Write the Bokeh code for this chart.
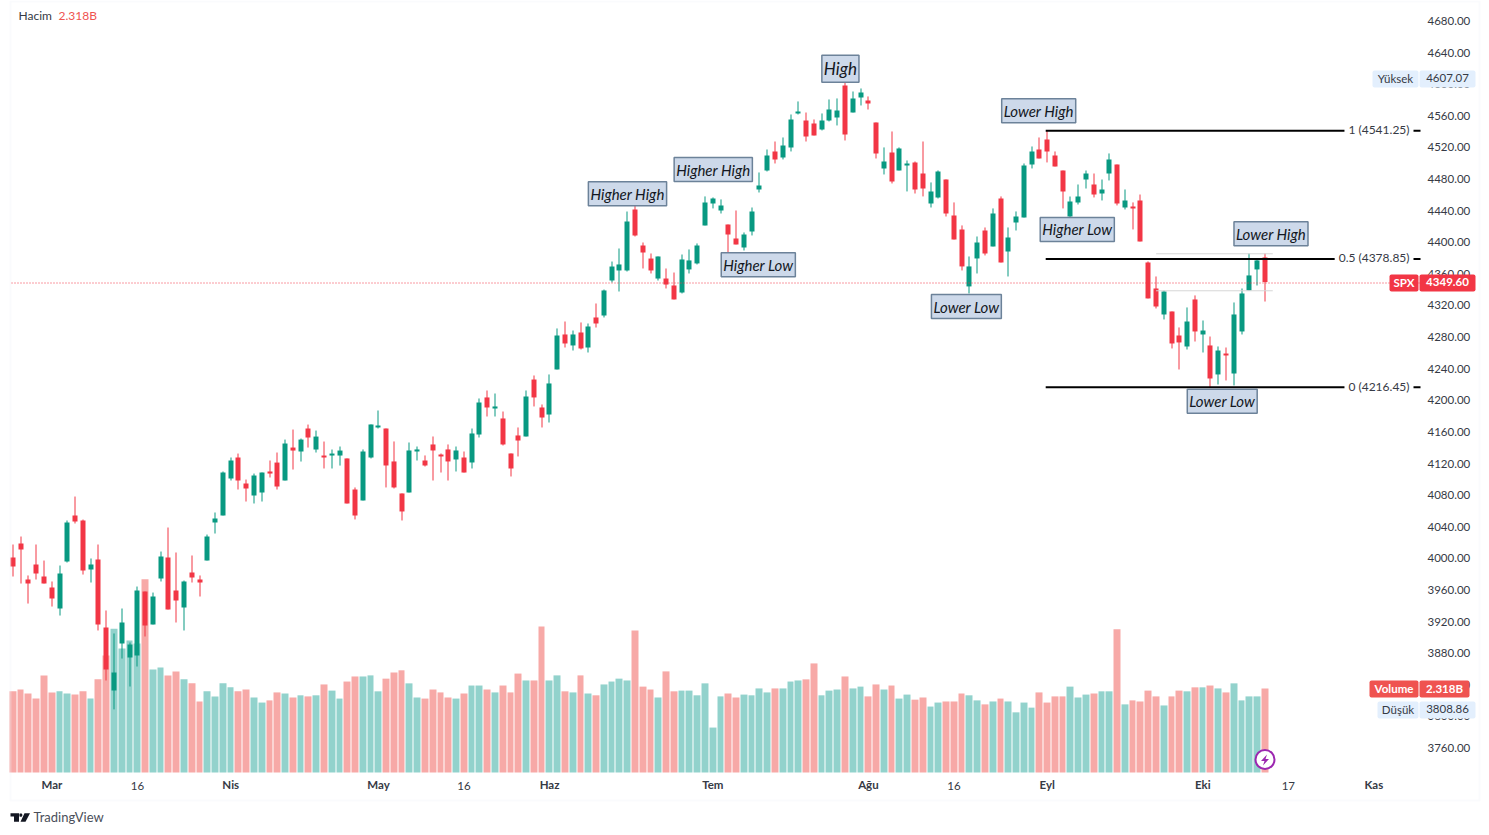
import math
from bokeh.plotting import figure
from bokeh.embed import file_html
from bokeh.resources import INLINE
from bokeh.models import (ColumnDataSource, Range1d, LinearAxis, FixedTicker, NumeralTickFormatter,
                          Label, BoxAnnotation, PolyAnnotation)

open_ = [4001.0,4018.7,3973.2,3992.2,3977.0,3963.1,3936.5,3996.0,4054.2,4047.9,3985.8,3998.5,3912.5,3832.7,3892.2,3874.5,3877.0,3958.0,3916.3,3974.5,
4001.0,3959.3,3937.8,3982.1,3973.2,3997.2,4045.3,4054.2,4101.0,4127.6,4094.7,4079.5,4083.3,4109.9,4121.2,4098.5,4140.2,4135.2,4164.3,4137.7,
4130.1,4130.1,4130.1,4126.4,4087.1,4073.2,4127.6,4165.6,4164.3,4122.6,4082.1,4083.3,4135.2,4123.8,4144.1,4131.4,4137.8,4125.1,4127.6,4121.3,
4156.7,4203.6,4189.6,4177.0,4132.7,4155.5,4154.2,4226.3,4190.9,4182.0,4239.0,4283.3,4269.4,4285.8,4266.8,4304.8,4307.3,4351.6,4364.3,4364.3,
4441.4,4395.9,4379.4,4354.1,4354.1,4345.3,4336.4,4365.6,4373.2,4421.3,4449.1,4440.2,4422.5,4404.8,4393.4,4413.7,4466.8,4490.9,4514.9,4507.3,
4520.0,4563.0,4554.1,4550.3,4542.7,4554.1,4557.9,4598.4,4564.2,4583.2,4579.4,4551.6,4493.4,4513.6,4490.9,4497.2,4501.0,4487.1,4449.1,4456.7,
4479.5,4433.9,4416.2,4344.1,4379.5,4414.9,4394.7,4455.4,4388.4,4425.1,4431.3,4498.4,4517.4,4530.0,4509.8,4490.8,4432.6,4450.4,4479.4,4473.1,
4461.7,4487.0,4498.4,4444.0,4445.3,4452.9,4374.4,4341.5,4308.6,4312.4,4282.0,4268.1,4327.6,4283.3,4269.4,4232.7,4259.2,4233.9,4287.1,4339.0,4365.6,4380.8]
high = [4017.5,4027.6,3978.3,4017.5,3997.2,3970.7,3990.9,4047.9,4078.2,4049.1,3999.8,4017.5,3934.0,3904.9,3936.5,3893.5,3964.3,3958.0,3956.7,4008.6,
4039.0,4007.4,3971.9,4003.6,3978.3,4030.1,4058.0,4109.9,4127.6,4132.6,4099.7,4107.3,4108.6,4123.8,4133.9,4150.3,4163.0,4151.6,4169.3,4161.7,
4147.8,4137.7,4141.5,4126.4,4089.7,4137.8,4169.4,4187.1,4164.3,4147.9,4082.1,4146.6,4141.5,4130.2,4154.2,4132.7,4144.1,4141.5,4135.2,4164.3,
4202.3,4212.4,4208.6,4185.8,4132.7,4165.6,4212.4,4231.4,4194.7,4232.7,4290.9,4299.7,4288.3,4298.5,4297.2,4322.5,4340.2,4375.6,4392.1,4438.9,
4446.5,4399.7,4385.8,4382.0,4366.8,4361.7,4384.5,4390.9,4398.5,4458.0,4456.7,4454.2,4422.5,4440.2,4412.4,4444.0,4488.3,4517.4,4527.5,4532.6,
4561.7,4578.2,4564.2,4555.4,4563.0,4580.7,4582.0,4607.07,4590.8,4594.6,4584.5,4551.6,4520.0,4540.2,4520.0,4503.5,4502.2,4527.5,4475.7,4490.9,
4479.5,4450.4,4421.3,4382.0,4407.3,4418.7,4442.8,4458.0,4418.7,4439.0,4499.7,4521.2,4532.6,4541.25,4514.9,4490.8,4457.9,4473.1,4490.8,4487.0,
4479.4,4512.4,4498.4,4466.8,4450.4,4460.4,4375.7,4356.7,4339.0,4312.4,4292.2,4317.5,4332.7,4301.0,4280.7,4268.1,4266.8,4323.8,4341.5,4385.8,4378.2,4385.8]
low = [3977.0,3968.1,3942.8,3973.2,3968.1,3939.0,3927.6,3994.7,4044.1,3979.5,3969.4,3908.7,3845.4,3808.86,3873.2,3837.8,3863.1,3901.1,3916.3,3970.7,
3935.2,3918.8,3908.7,3969.4,3951.7,3997.2,4031.4,4054.2,4098.5,4087.1,4071.9,4069.4,4071.9,4102.3,4087.1,4098.5,4112.4,4122.5,4140.2,4133.9,
4113.7,4113.7,4117.4,4069.4,4049.2,4073.2,4126.4,4164.3,4089.7,4088.4,4047.9,4083.3,4123.8,4116.2,4098.5,4108.6,4098.5,4109.9,4108.6,4113.7,
4152.9,4179.5,4179.5,4142.8,4103.6,4128.9,4154.2,4192.2,4165.6,4171.9,4239.0,4266.8,4263.0,4264.3,4260.5,4292.1,4304.8,4349.1,4337.7,4363.0,
4407.3,4366.8,4360.5,4351.6,4341.5,4327.6,4335.2,4360.5,4371.9,4421.3,4442.8,4436.4,4384.6,4397.2,4389.6,4408.6,4463.0,4489.6,4499.7,4504.8,
4514.9,4561.7,4527.5,4535.1,4541.5,4552.9,4547.8,4528.8,4564.2,4573.1,4568.0,4506.0,4485.8,4474.4,4490.9,4464.3,4461.7,4458.0,4444.0,4455.4,
4432.6,4403.5,4364.3,4335.2,4360.5,4383.3,4394.7,4374.4,4356.7,4414.9,4431.3,4493.4,4506.0,4501.0,4495.9,4442.8,4430.1,4447.8,4468.0,4456.7,
4452.9,4478.2,4446.6,4441.5,4416.2,4401.0,4328.9,4316.2,4302.3,4265.6,4239.0,4264.3,4274.4,4260.5,4216.45,4220.0,4225.1,4218.8,4283.3,4339.0,4345.3,4325.0]
close = [3989.6,4011.2,3968.1,3980.8,3968.1,3949.2,3980.8,4045.3,4046.6,3984.6,3992.2,3916.3,3859.3,3855.5,3918.8,3890.9,3959.3,3915.0,3951.7,4002.3,
3935.2,3946.6,3970.7,3975.7,3969.4,4027.6,4050.4,4108.6,4123.8,4098.5,4088.3,4104.8,4108.6,4107.3,4090.9,4145.3,4136.4,4150.3,4152.9,4154.1,
4127.6,4132.6,4136.4,4069.4,4054.2,4135.2,4169.4,4168.1,4117.5,4089.7,4059.3,4136.5,4137.8,4117.5,4136.5,4128.9,4122.6,4136.5,4108.6,4158.0,
4197.2,4190.9,4192.2,4144.1,4113.7,4149.1,4204.8,4203.6,4178.2,4221.3,4282.0,4271.9,4283.3,4265.6,4293.4,4297.2,4339.0,4369.3,4371.9,4426.3,
4408.5,4387.0,4364.3,4382.0,4346.5,4327.6,4378.2,4377.0,4395.9,4450.4,4455.4,4446.6,4409.9,4397.2,4409.9,4439.0,4471.9,4509.8,4504.8,4522.5,
4555.4,4565.5,4533.9,4535.1,4554.1,4568.0,4566.8,4536.4,4582.0,4589.6,4575.6,4512.4,4502.2,4476.9,4518.7,4499.7,4466.8,4468.1,4464.3,4489.6,
4436.4,4403.5,4369.4,4369.4,4399.7,4385.8,4436.4,4374.4,4406.1,4432.6,4497.1,4514.9,4506.0,4514.9,4495.9,4464.3,4451.6,4457.9,4487.0,4460.4,
4466.8,4504.8,4449.1,4452.9,4442.8,4401.0,4328.9,4318.7,4337.7,4271.9,4273.2,4299.7,4287.1,4288.3,4227.6,4263.0,4256.7,4308.6,4335.2,4358.0,4377.0,4349.60]
volume = [2.24,2.29,2.18,2.04,2.68,2.21,2.24,2.18,2.15,2.24,2.04,2.57,3.23,3.97,3.42,3.64,3.56,5.33,2.84,2.90,
2.68,2.79,2.57,2.46,1.96,2.24,2.10,2.46,2.35,2.24,2.29,2.07,1.93,1.99,2.21,2.18,2.07,2.13,2.10,2.13,
2.43,2.26,2.04,2.51,2.65,2.65,2.68,2.24,2.59,2.76,2.82,2.46,2.07,2.04,2.29,2.21,2.07,2.04,2.18,2.40,
2.40,2.29,2.21,2.40,2.21,2.73,2.54,2.54,4.03,2.54,2.68,2.24,2.21,2.68,2.18,2.13,2.43,2.51,2.59,2.54,
3.92,2.37,2.29,2.07,2.79,2.24,2.26,2.26,2.13,2.46,1.24,2.10,2.18,2.07,2.15,2.13,2.32,2.21,2.32,2.32,
2.51,2.54,2.57,3.01,2.13,2.26,2.29,2.65,2.32,2.37,2.10,2.43,2.29,2.40,2.04,2.15,2.01,2.07,1.82,1.93,
1.96,1.96,2.18,2.13,1.99,1.88,1.96,2.04,1.96,1.66,1.93,1.79,2.21,1.93,2.10,2.10,2.37,2.07,2.15,2.18,
2.24,2.24,3.95,1.88,1.99,1.96,2.26,2.10,1.85,2.10,2.26,2.24,2.35,2.35,2.40,2.32,2.21,2.46,1.99,2.10,2.10,2.318]

price_ticks = [3760,3800,3840,3880,3920,3960,4000,4040,4080,4120,4160,4200,4240,4280,4320,4360,4400,4440,4480,4520,4560,4600,4640,4680]
month_ticks = [5, 28, 47, 69, 90, 110, 133, 153, 175]
month_labels = ["Mar", "Nis", "May", "Haz", "Tem", "Ağu", "Eyl", "Eki", "Kas"]
day_ticks = [16, 58, 121, 164]
day_labels = ["16", "16", "16", "17"]
fib_levels = [("1 (4541.25)", 4541.25), ("0.5 (4378.85)", 4378.85), ("0 (4216.45)", 4216.45)]
fib_start = 132.8
guide_levels = [4385.4, 4338.6]
guide_span = (147, 162)
callouts = [("Higher High", 79.02, 4460.1), ("High", 106.4, 4618.2), ("Higher High", 90.05, 4490.8),
            ("Higher Low", 95.84, 4370.2), ("Lower Low", 122.6, 4317.4), ("Lower High", 131.9, 4565.1),
            ("Higher Low", 136.86, 4414.9), ("Lower High", 161.77, 4409.4), ("Lower Low", 155.5, 4197.6)]
last_price = 4349.60

UP, DOWN = "#089981", "#f23645"
VUP, VDOWN = "#92d2cc", "#f7a9a7"
FONT = "Lato"
TXT = "#363a45"
FS = "11.5px"

# The frame fills the whole figure, so texts outside the pane are not clipped.
W, H = 1484, 835
PX_PER_BAR = 7.7764
PX_PER_PT = 0.7902
X0 = 12.5   # page x of bar 0
Y0 = 20.5   # page y of price 4680
def px_to_x(px): return (px - X0) / PX_PER_BAR
def px_to_price(py): return 4680 - (py - Y0) / PX_PER_PT

n = len(close)
# bars snap to whole pixel columns, as the original chart does
col = [math.floor(12.4 + PX_PER_BAR * i) for i in range(n + 1)]
xsnap = [px_to_x(c + 0.5) for c in col[:n]]
vleft = [px_to_x(c - 3) for c in col[:n]]
vright = [px_to_x(col[i + 1] - 4) for i in range(n)]
src = ColumnDataSource(dict(
    x=xsnap, vl=vleft, vr=vright, o=open_, h=high, l=low, c=close, v=volume,
    top=[max(a, b) for a, b in zip(open_, close)],
    bot=[min(a, b) for a, b in zip(open_, close)],
    col=[UP if c >= o else DOWN for o, c in zip(open_, close)],
    vcol=[VUP if c >= o else VDOWN for o, c in zip(open_, close)],
))

p = figure(width=W, height=H, x_range=Range1d(px_to_x(0), px_to_x(W)),
           y_range=Range1d(px_to_price(H), px_to_price(0)),
           x_axis_location=None, y_axis_location=None, output_backend="svg", toolbar_location=None,
           min_border=0, margin=0, background_fill_color="white", border_fill_color="white")
p.outline_line_color = None
p.grid.visible = False

VOL_PER_PX = 2.318 / 84
BASE = 772
p.extra_y_ranges = {"vol": Range1d(-(H - BASE) * VOL_PER_PX, BASE * VOL_PER_PX)}
p.quad(left="vl", right="vr", top="v", bottom=0, fill_color="vcol", line_color=None, y_range_name="vol", source=src)
p.segment(x0="x", x1="x", y0="l", y1="h", color="col", line_width=1, source=src)
p.vbar(x="x", top="top", bottom="bot", width=5 / PX_PER_BAR, fill_color="col", line_color=None, source=src)

# axes
ya = LinearAxis(fixed_location=px_to_x(1420), ticker=FixedTicker(ticks=price_ticks),
                formatter=NumeralTickFormatter(format="0.00"))
ya.major_tick_line_color = None
ya.minor_tick_line_color = None
ya.major_tick_out = 0
ya.major_tick_in = 0
ya.axis_line_color = None
ya.major_label_text_font = FONT
ya.major_label_text_font_size = FS
ya.major_label_text_color = TXT
ya.major_label_standoff = 7
p.add_layout(ya, "right")

xa = LinearAxis(fixed_location=px_to_price(BASE), ticker=FixedTicker(ticks=month_ticks),
                major_label_overrides=dict(zip(month_ticks, month_labels)))
xa.major_tick_line_color = None
xa.minor_tick_line_color = None
xa.major_tick_out = 0
xa.major_tick_in = 0
xa.axis_line_color = None
xa.major_label_text_font = FONT
xa.major_label_text_font_style = "bold"
xa.major_label_text_font_size = FS
xa.major_label_text_color = TXT
xa.major_label_standoff = 5
p.add_layout(xa, "below")

for t, s in zip(day_ticks, day_labels):
    p.add_layout(Label(x=t, y=785, x_units="data", y_units="canvas", text=s, text_align="center",
                       text_baseline="middle", text_font=FONT, text_font_size=FS, text_color=TXT))

# thin grey guide lines, fib lines, last price
for lv in guide_levels:
    p.line(x=list(guide_span), y=[lv, lv], color="#d6d6d6", line_width=1)
for _, lv in fib_levels:
    p.line(x=[fib_start, px_to_x(1420)], y=[lv, lv], color="#000000", line_width=2)
p.line(x=[px_to_x(11), px_to_x(1420)], y=[px_to_price(282.5)] * 2, color=DOWN, line_width=1, line_dash="1 2")

for txt, lv in fib_levels:
    p.add_layout(Label(x=1413, y=lv, x_units="canvas", y_units="data", y_offset=1, text=txt, text_align="right",
                       text_baseline="middle", text_font=FONT, text_font_size="12px", text_color=TXT,
                       background_fill_color="white", padding=4))

for txt, cx, cy in callouts:
    big = txt == "High"
    p.add_layout(Label(x=cx, y=cy, y_offset=1, text=txt, text_align="center", text_baseline="middle",
                       text_font=FONT, text_font_size="17px" if big else "15px", text_font_style="italic",
                       text_color="#131722", background_fill_color="#cdd9ea", border_line_color="#6c8299",
                       border_line_width=1.5, padding=(2, 3)))

# price scale tags
def tag(l, r, t, b, color, text, tcolor, bold=False):
    p.add_layout(BoxAnnotation(left=l, right=r, top=t, bottom=b, left_units="canvas", right_units="canvas",
                               top_units="canvas", bottom_units="canvas", fill_color=color, fill_alpha=1,
                               line_color=None, border_radius=2))
    p.add_layout(Label(x=(l + r) / 2, y=(t + b) / 2 - 1, x_units="canvas", y_units="canvas", text=text,
                       text_align="center", text_baseline="middle", text_font=FONT, text_font_size=FS,
                       text_font_style="bold" if bold else "normal", text_color=tcolor))

LIGHT = "#e3effd"
tag(1372, 1418, 70, 87, LIGHT, "Yüksek", TXT)
tag(1419, 1475, 70, 87, LIGHT, "4607.07", TXT)
tag(1389, 1418, 274, 291, DOWN, "SPX", "white", True)
tag(1419, 1475, 274, 291, DOWN, "4349.60", "white", True)
tag(1369, 1418, 680, 697, "#ef5350", "Volume", "white", True)
tag(1419, 1469, 680, 697, "#ef5350", "2.318B", "white", True)
tag(1377, 1418, 701, 718, LIGHT, "Düşük", TXT)
tag(1419, 1475, 701, 718, LIGHT, "3808.86", TXT)

# legend top-left
p.add_layout(Label(x=18, y=14.5, x_units="canvas", y_units="canvas", text="Hacim", text_baseline="middle",
                   text_font=FONT, text_font_size="12px", text_color=TXT))
p.add_layout(Label(x=58, y=14.5, x_units="canvas", y_units="canvas", text="2.318B", text_baseline="middle",
                   text_font=FONT, text_font_size="12px", text_color="#ef5350"))

# lightning marker on the last bar
p.scatter(x=[161], y=[px_to_price(759)], size=19, marker="circle", fill_color="white", line_color="#9c27b0", line_width=2)
p.add_layout(PolyAnnotation(xs=[1266.5, 1260.5, 1264, 1262.5, 1268.5, 1265], ys=[754, 760.5, 760.5, 765, 758.5, 758.5],
                            xs_units="canvas", ys_units="canvas", fill_color="#9c27b0", fill_alpha=1, line_color=None))

# outer border
p.add_layout(BoxAnnotation(left=10, right=1479, top=1, bottom=800, left_units="canvas", right_units="canvas",
                           top_units="canvas", bottom_units="canvas", fill_alpha=0, line_color="#f0f3fa", line_width=2))

# TradingView logo and wordmark
for xs, ys in [([10, 18.5, 18.5, 13.5, 13.5, 10], [812.7, 812.7, 821.3, 821.3, 816, 816]),
               ([24, 29.5, 25, 20], [812.7, 812.7, 821.3, 821.3]),
               ([19.2, 21.2, 22, 21.2, 19.2, 18.8], [813, 813, 814.6, 816.2, 816.2, 814.6])]:
    p.add_layout(PolyAnnotation(xs=xs, ys=ys, xs_units="canvas", ys_units="canvas", fill_color="#131722",
                                fill_alpha=1, line_color=None))
p.add_layout(Label(x=33, y=816.5, x_units="canvas", y_units="canvas", text="TradingView", text_baseline="middle",
                   text_font=FONT, text_font_size="13px", text_color="#4a4f5a"))

open("out.html", "w").write(file_html(p, INLINE))
